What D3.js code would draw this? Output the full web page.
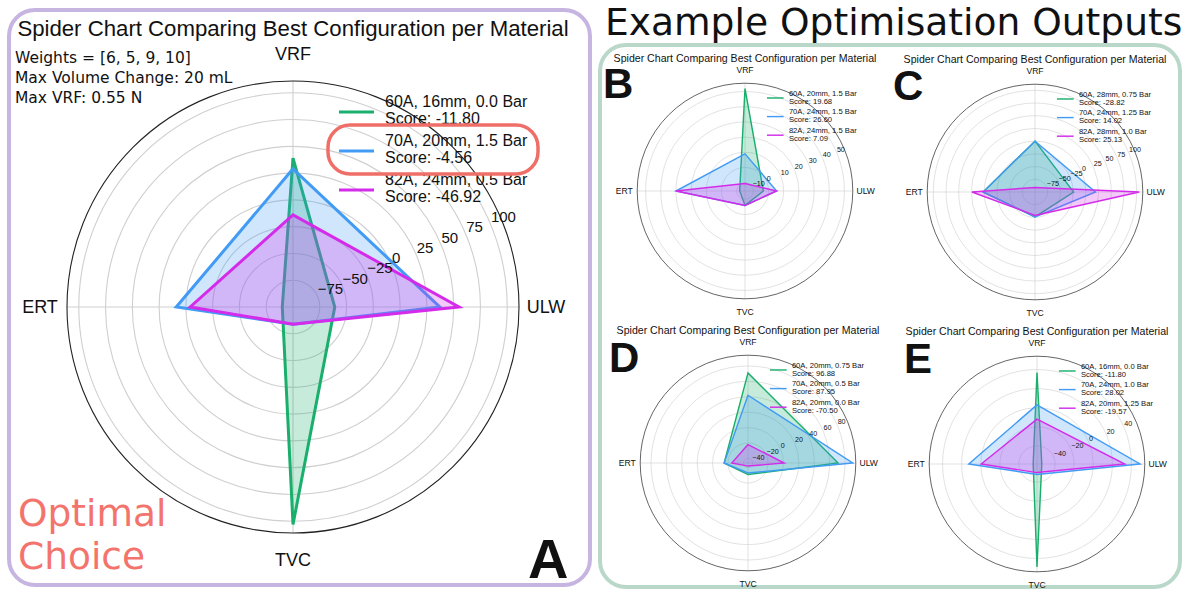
<!DOCTYPE html>
<html><head><meta charset="utf-8">
<script src="https://cdn.jsdelivr.net/npm/d3@7"></script>
<style>body{margin:0;background:#fff}svg{display:block}</style>
</head><body>
<svg id="chart" width="1184" height="590"></svg>
<script>
// ---- data ----
const categories = ["VRF", "ERT", "TVC", "ULW"];
const seriesColors = ["#1aaf6c", "#429bf4", "#d42cea"];
const chartTitle = "Spider Chart Comparing Best Configuration per Material";

const panelA_60A = [39, -90, 103, -61];
const panelA_70A = [29, 9, -84, 37];
const panelA_82A = [-14, -4, -84, 55];
const panelA_configs = ["60A, 16mm, 0.0 Bar", "70A, 20mm, 1.5 Bar", "82A, 24mm, 0.5 Bar"];
const panelA_scores = ["-11.80", "-4.56", "-46.92"];
const panelA_ticks = [-75, -50, -25, 0, 25, 50, 75, 100];
const panelA_domain = [-100, 111];
const panelA_notes = ["Weights = [6, 5, 9, 10]", "Max Volume Change: 20 mL", "Max VRF: 0.55 N"];

const panelB_60A = [52, -12, -6, -3.4];
const panelB_70A = [9, 30, -6, 5.3];
const panelB_82A = [-10.6, 30, -6, 5.3];
const panelB_configs = ["60A, 20mm, 1.5 Bar", "70A, 24mm, 1.5 Bar", "82A, 24mm, 1.5 Bar"];
const panelB_scores = ["19.68", "26.60", "7.09"];
const panelB_ticks = [-10, 0, 10, 20, 30, 40, 50];
const panelB_domain = [-15.5, 55.5];

const panelC_60A = [0, 2, -51, -24];
const panelC_70A = [0, 2, -51, 19];
const panelC_82A = [-91, 24, -54, 105];
const panelC_configs = ["60A, 28mm, 0.75 Bar", "70A, 24mm, 1.25 Bar", "82A, 28mm, 1.0 Bar"];
const panelC_scores = ["-28.82", "14.02", "25.13"];
const panelC_ticks = [-75, -50, -25, 0, 25, 50, 75, 100];
const panelC_domain = [-100, 112];

const panelD_60A = [71, -15, -31, 71];
const panelD_70A = [42, -15, -33, 90];
const panelD_82A = [-22, -25, -42, 1];
const panelD_configs = ["60A, 20mm, 0.75 Bar", "70A, 20mm, 0.5 Bar", "82A, 20mm, 0.0 Bar"];
const panelD_scores = ["96.88", "87.95", "-70.50"];
const panelD_ticks = [-40, -20, 0, 20, 40, 60, 80];
const panelD_domain = [-46, 94];

const panelE_60A = [37, -55, 49, -54];
const panelE_70A = [3, 12.5, -48, 49];
const panelE_82A = [-12, -0.5, -50, 33];
const panelE_configs = ["60A, 16mm, 0.0 Bar", "70A, 24mm, 1.0 Bar", "82A, 20mm, 1.25 Bar"];
const panelE_scores = ["-11.80", "28.02", "-19.57"];
const panelE_ticks = [-40, -20, 0, 20, 40];
const panelE_domain = [-59, 54];

const rightTitle = "Example Optimisation Outputs";
const optimalText = ["Optimal", "Choice"];

// ---- drawing ----
const svg = d3.select("#chart");
const SANS = "'Liberation Sans', Arial, Helvetica, sans-serif";
const DEJAVU = "'DejaVu Sans', sans-serif";
const fmt = v => (v < 0 ? "\u2212" + Math.abs(v) : String(v));

function radar(cx, cy, k, series, configs, scores, ticks, domain) {
  const R = 226 * k;
  const g = svg.append("g").attr("transform", `translate(${cx},${cy})`);
  const r = d3.scaleLinear().domain(domain).range([0, R]);
  const ang = i => -i * Math.PI / 2; // d3 radial angle (0 = up, clockwise)

  g.selectAll("circle.ring").data(ticks).join("circle")
    .attr("r", d => r(d)).attr("fill", "none")
    .attr("stroke", "#cfcfcf").attr("stroke-width", Math.max(0.6, 1.1 * k));
  g.selectAll("line.spoke").data(categories).join("line")
    .attr("x1", 0).attr("y1", 0)
    .attr("x2", (d, i) => R * Math.sin(ang(i)))
    .attr("y2", (d, i) => -R * Math.cos(ang(i)))
    .attr("stroke", "#cfcfcf").attr("stroke-width", Math.max(0.6, 1.1 * k));
  g.append("circle").attr("r", R).attr("fill", "none")
    .attr("stroke", "#222").attr("stroke-width", Math.max(0.7, 1.1 * k));

  const line = d3.lineRadial().angle((d, i) => ang(i)).radius(d => r(d)).curve(d3.curveLinearClosed);
  series.forEach((vals, si) => {
    g.append("path").attr("d", line(vals)).attr("fill", "none")
      .attr("stroke", seriesColors[si]).attr("stroke-width", 3 * k)
      .attr("stroke-linejoin", "miter");
    g.append("path").attr("d", line(vals)).attr("fill", seriesColors[si])
      .attr("fill-opacity", 0.25).attr("stroke", "none");
  });

  const a = 22.5 * Math.PI / 180;
  g.selectAll("text.tick").data(ticks).join("text")
    .attr("x", d => r(d) * Math.cos(a))
    .attr("y", d => -r(d) * Math.sin(a) - 3 * k)
    .attr("font-family", SANS).attr("font-size", 15 * k).attr("fill", "#111")
    .text(d => fmt(d));

  const lr = R + 27 * k;
  g.selectAll("text.cat").data(categories).join("text")
    .attr("x", (d, i) => lr * Math.sin(ang(i)))
    .attr("y", (d, i) => -lr * Math.cos(ang(i)))
    .attr("text-anchor", "middle").attr("dominant-baseline", "central")
    .attr("font-family", SANS).attr("font-size", 18 * k).attr("fill", "#111")
    .text(d => d);

  g.append("text").attr("x", 0).attr("y", -271 * k)
    .attr("text-anchor", "middle").attr("font-family", SANS)
    .attr("font-size", 22.2 * k).attr("fill", "#111").text(chartTitle);

  configs.forEach((c, i) => {
    const ly = -195 * k + i * 39 * k;
    g.append("line").attr("x1", 46 * k).attr("x2", 81 * k).attr("y1", ly).attr("y2", ly)
      .attr("stroke", seriesColors[i]).attr("stroke-width", 3 * k);
    const t = g.append("text").attr("font-family", SANS).attr("font-size", 16 * k).attr("fill", "#111");
    t.append("tspan").attr("x", 92 * k).attr("y", ly - 5 * k).text(c);
    t.append("tspan").attr("x", 92 * k).attr("y", ly + 12 * k).text("Score: " + scores[i]);
  });
  return g;
}

svg.append("rect").attr("x", 9).attr("y", 10).attr("width", 581).attr("height", 575)
  .attr("rx", 26).attr("fill", "none").attr("stroke", "#c7b5e1").attr("stroke-width", 4);
svg.append("rect").attr("x", 600).attr("y", 45).attr("width", 580).attr("height", 542)
  .attr("rx", 26).attr("fill", "none").attr("stroke", "#bad8c9").attr("stroke-width", 4);

radar(293, 307, 1, [panelA_60A, panelA_70A, panelA_82A], panelA_configs, panelA_scores, panelA_ticks, panelA_domain);
svg.append("g").selectAll("text").data(panelA_notes).join("text")
  .attr("x", 15).attr("y", (d, i) => 63 + i * 20)
  .attr("font-family", DEJAVU).attr("font-size", 15.5).attr("fill", "#111").text(d => d);
svg.append("rect").attr("x", 328).attr("y", 125).attr("width", 210).attr("height", 49)
  .attr("rx", 22).attr("fill", "none").attr("stroke", "#ef6f68").attr("stroke-width", 3.5);
svg.append("g").selectAll("text").data(optimalText).join("text")
  .attr("x", 18).attr("y", (d, i) => 526 + i * 43)
  .attr("font-family", DEJAVU).attr("font-size", 37.5).attr("fill", "#f3746d").text(d => d);

const k2 = 0.477;
radar(745, 191, k2, [panelB_60A, panelB_70A, panelB_82A], panelB_configs, panelB_scores, panelB_ticks, panelB_domain);
radar(1035, 192, k2, [panelC_60A, panelC_70A, panelC_82A], panelC_configs, panelC_scores, panelC_ticks, panelC_domain);
radar(748, 463, k2, [panelD_60A, panelD_70A, panelD_82A], panelD_configs, panelD_scores, panelD_ticks, panelD_domain);
radar(1037, 464, k2, [panelE_60A, panelE_70A, panelE_82A], panelE_configs, panelE_scores, panelE_ticks, panelE_domain);

svg.append("text").attr("x", 605).attr("y", 35)
  .attr("font-family", DEJAVU).attr("font-size", 37.6).attr("fill", "#111").text(rightTitle);

const letters = [["A", 528, 578, 56], ["B", 603, 98, 42], ["C", 893, 100, 42], ["D", 609, 372, 42], ["E", 904, 373, 42]];
svg.append("g").selectAll("text").data(letters).join("text")
  .attr("x", d => d[1]).attr("y", d => d[2])
  .attr("font-family", SANS).attr("font-weight", "bold").attr("font-size", d => d[3])
  .attr("fill", "#111").text(d => d[0]);
</script>
</body></html>
